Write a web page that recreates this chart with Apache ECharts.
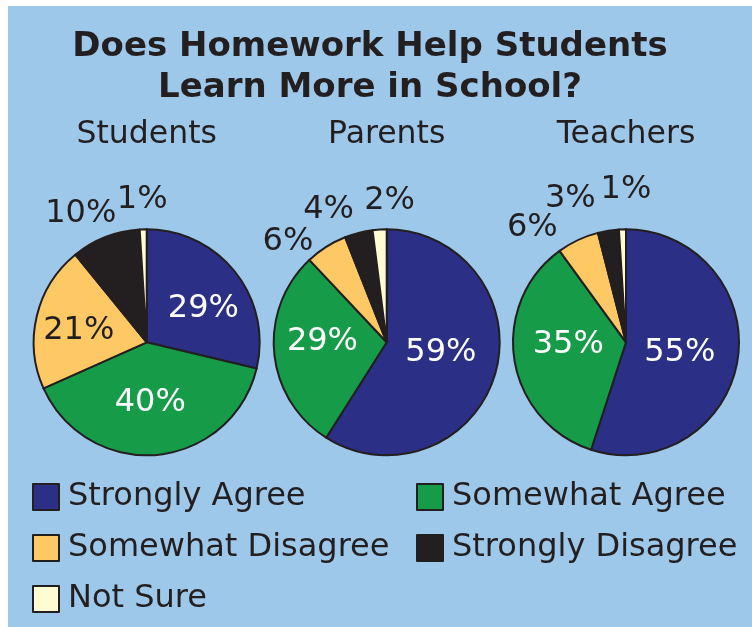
<!DOCTYPE html>
<html>
<head>
<meta charset="utf-8">
<script src="https://cdn.jsdelivr.net/npm/echarts@6/dist/echarts.min.js"></script>
<style>
  html, body { margin: 0; padding: 0; background: #ffffff; }
  #chart { width: 752px; height: 627px; }
</style>
</head>
<body>
<div id="chart"></div>
<script>
// ---- Data ----
const titleText = 'Does Homework Help Students\nLearn More in School?';
const groups = ['Students', 'Parents', 'Teachers'];
const categories = ['Strongly Agree', 'Somewhat Agree', 'Somewhat Disagree', 'Strongly Disagree', 'Not Sure'];
const studentsValues = [29, 40, 21, 10, 1];
const parentsValues = [59, 29, 6, 4, 2];
const teachersValues = [55, 35, 6, 3, 1];

// ---- Style / layout ----
const FONT = "'DejaVu Sans', Verdana, sans-serif";
const DARK = '#231f20';
const categoryColors = ['#2b2f86', '#169b48', '#fec965', '#231f20', '#fffbd2'];
const insideTextColors = ['#ffffff', '#ffffff', '#231f20', '#ffffff', '#231f20'];
const pieCenters = [[146.7, 342.3], [386.7, 342.3], [626, 342.3]];
const pieRadius = 113;
const insideThreshold = 15;
// per-label nudges [dx, dy] (label placement tweaks)
const labelNudges = [
  [[10, 3], [-2, 1], [-10, 2], [-13, 6], [0, 2]],
  [[-3, -6], [-5, -6], [-21, 22], [-22, 8], [12, 3]],
  [[-5, 1], [1, -7], [-32, 17], [-33, 0], [4.5, -8]]
];

const seriesValues = [studentsValues, parentsValues, teachersValues];

const chart = echarts.init(document.getElementById('chart'), null, { renderer: 'canvas' });

const series = seriesValues.map((vals, si) => ({
  type: 'pie',
  name: groups[si],
  center: pieCenters[si],
  radius: pieRadius,
  startAngle: 90,
  clockwise: true,
  avoidLabelOverlap: false,
  silent: true,
  animation: false,
  itemStyle: { borderColor: DARK, borderWidth: 2 },
  labelLine: { show: false, length: 32, length2: 0 },
  label: {
    show: true,
    formatter: '{c}%',
    fontFamily: FONT,
    fontSize: 32,
    distanceToLabelLine: 0
  },
  labelLayout: function (p) {
    const n = labelNudges[si][p.dataIndex] || [0, 0];
    const v = vals[p.dataIndex];
    const res = { dx: n[0], dy: n[1] };
    if (v < insideThreshold) res.align = 'center';
    return res;
  },
  data: vals.map((v, i) => ({
    name: categories[i],
    value: v,
    itemStyle: { color: categoryColors[i] },
    label: v >= insideThreshold
      ? { position: 'inside', color: insideTextColors[i] }
      : { position: 'outside', color: DARK }
  }))
}));

const subTitles = groups.map((g, i) => ({
  text: g,
  left: pieCenters[i][0],
  top: 120,
  padding: 0,
  textAlign: 'center',
  textStyle: { fontFamily: FONT, fontSize: 31.5, fontWeight: 'normal', color: DARK, lineHeight: 30 }
}));

const legendCommon = {
  orient: 'vertical',
  icon: 'rect',
  itemWidth: 26,
  itemHeight: 26,
  itemGap: 19,
  padding: 0,
  selectedMode: false,
  itemStyle: { borderColor: DARK, borderWidth: 2 },
  textStyle: { fontFamily: FONT, fontSize: 32, color: DARK, lineHeight: 26, padding: [0, 0, 0, 4] }
};

chart.setOption({
  backgroundColor: '#ffffff',
  animation: false,
  graphic: [{
    type: 'rect',
    silent: true,
    z: -10,
    shape: { x: 8, y: 6, width: 744, height: 621 },
    style: { fill: '#9ec8ea' }
  }],
  title: [{
    text: titleText,
    left: 370,
    top: 27,
    padding: 0,
    textAlign: 'center',
    textStyle: { fontFamily: FONT, fontSize: 34, fontWeight: 'bold', color: DARK, lineHeight: 41 }
  }].concat(subTitles),
  legend: [
    Object.assign({}, legendCommon, { left: 32, top: 481, data: [categories[0], categories[2], categories[4]] }),
    Object.assign({}, legendCommon, { left: 416, top: 481, data: [categories[1], categories[3]] })
  ],
  series: series
});
</script>
</body>
</html>
